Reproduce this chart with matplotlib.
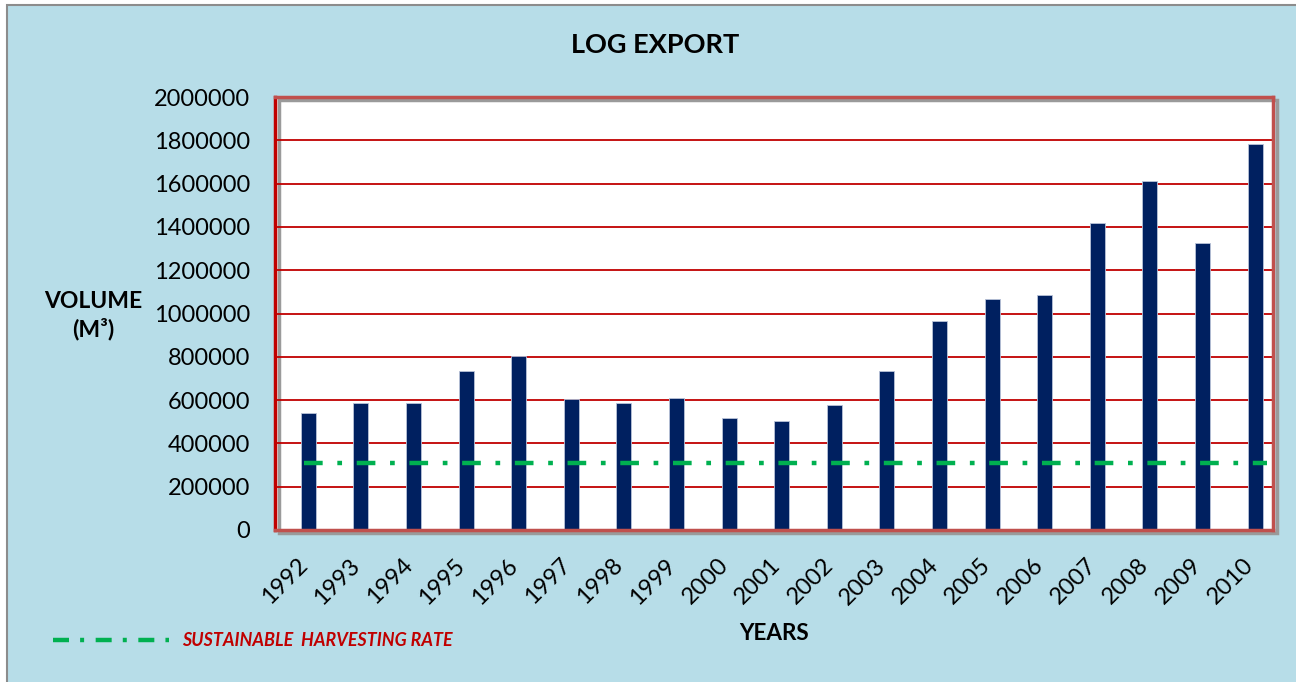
import numpy as np
import matplotlib.pyplot as plt
import matplotlib.transforms as mtransforms
from matplotlib.patches import Rectangle
from matplotlib.lines import Line2D

# -------------------------
# 数据
# -------------------------

years = [str(y) for y in range(1992, 2011)]

log_export = [540000, 588000, 585000, 734000, 804000, 605000, 585000,
              610000, 517000, 503000, 577000, 734000, 965000, 1067000,
              1085000, 1418000, 1612000, 1326000, 1783000]

sustainable_rate = 310000

y_ticks = [0, 200000, 400000, 600000, 800000, 1000000, 1200000,
           1400000, 1600000, 1800000, 2000000]

plt.rcParams["font.family"] = ["Lato", "DejaVu Sans"]

bg_color = "#B7DDE8"
bar_color = "#002060"
grid_color = "#C00000"
frame_color = "#C0504D"
green = "#00B050"

fig = plt.figure(figsize=(12.96, 6.82), dpi=100, facecolor="white")

# 外框背景
fig.add_artist(Rectangle(
    (7 / 1296, -0.01), 1.02, 1.0027,
    transform=fig.transFigure,
    facecolor=bg_color, edgecolor="#8C8C8C", linewidth=1.5, zorder=-10
))

ax = fig.add_axes([275 / 1296, 152 / 682, 998 / 1296, 433 / 682])
ax.set_facecolor("white")

x = np.arange(len(years))

# 阴影
ax.add_patch(Rectangle(
    (0.004, -0.008), 1.0, 1.0, transform=ax.transAxes,
    facecolor="none", edgecolor="#9A9A9A", linewidth=2.5,
    zorder=0.5, clip_on=False
))

ax.bar(
    x, log_export,
    width=0.285,
    color=bar_color,
    edgecolor="#B9C3D8",
    linewidth=0.6,
    zorder=2
)

# 可持续采伐量
ax.plot(
    [x[0] - 0.08, x[-1] + 0.22], [sustainable_rate, sustainable_rate],
    color=green, linewidth=3.2,
    dashes=(4.2, 3.3, 1.06, 3.3),
    dash_capstyle="butt",
    zorder=3
)

ax.set_ylim(0, 2000000)
ax.set_xlim(-0.635, 18.34)

ax.set_yticks(y_ticks)
ax.set_yticklabels([str(v) for v in y_ticks], fontsize=17)

ax.set_xticks(x)
ax.set_xticklabels(
    years, rotation=45, ha="right", va="top",
    rotation_mode="anchor", fontsize=17
)

ax.tick_params(axis="both", length=0, colors="black")
ax.tick_params(axis="y", pad=18)
ax.tick_params(axis="x", pad=12)

shift = mtransforms.ScaledTranslation(-12 / 100, -8 / 100, fig.dpi_scale_trans)
for lbl in ax.get_xticklabels():
    lbl.set_transform(lbl.get_transform() + shift)

ax.yaxis.grid(True, color=grid_color, linewidth=1.3, zorder=1)
ax.set_axisbelow(True)

for s in ax.spines.values():
    s.set_color(frame_color)
    s.set_linewidth(2.5)
    s.set_zorder(4)
ax.spines["left"].set_color("#C00000")

# -------------------------
# 文本
# -------------------------

fig.text(655 / 1296, 1 - 45 / 682, "LOG EXPORT",
         fontsize=19.5, fontweight="bold", ha="center", va="center")

fig.text(93 / 1296, 1 - 316 / 682, "VOLUME\n(M³)",
         fontsize=16.5, fontweight="bold", ha="center", va="center",
         linespacing=1.3)

fig.text(774 / 1296, 1 - 634 / 682, "YEARS",
         fontsize=16.2, fontweight="bold", ha="center", va="center")

# 图例
fig.add_artist(Line2D(
    [53 / 1296, 169 / 1296], [1 - 640 / 682, 1 - 640 / 682],
    transform=fig.transFigure, color=green, linewidth=3.2,
    dashes=(3.6, 2.5, 0.9, 2.6), solid_capstyle="butt",
    dash_capstyle="butt"
))

fig.text(182 / 1296, 1 - 641 / 682, "SUSTAINABLE  HARVESTING RATE",
         fontsize=12.9, fontweight="bold", fontstyle="italic",
         color="#C00000", ha="left", va="center")

fig.savefig("out.png", dpi=100, facecolor=fig.get_facecolor())
